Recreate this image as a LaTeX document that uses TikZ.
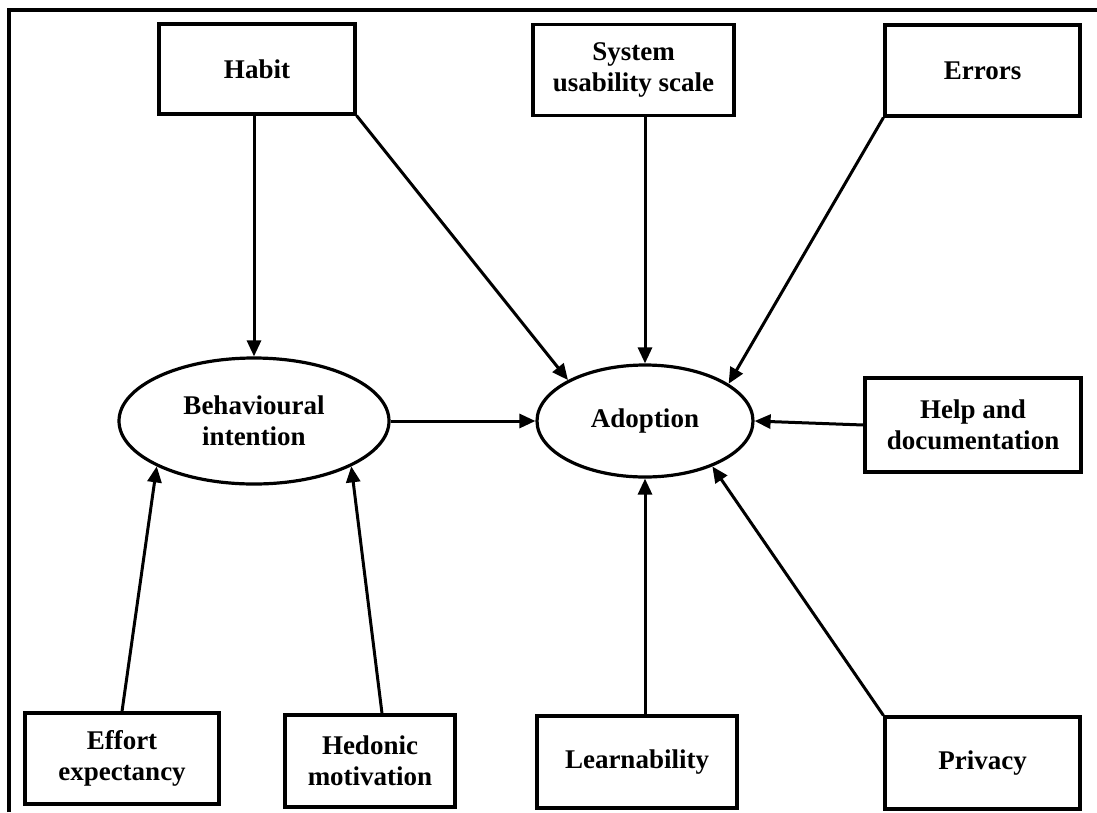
\documentclass[tikz,border=0pt]{standalone}
\usepackage{fontspec}
\setmainfont{Liberation Serif}
\usetikzlibrary{arrows.meta,shapes.geometric}
\begin{document}
\begin{tikzpicture}[x=1pt,y=-1pt,
  every node/.style={font=\fontsize{27}{31}\selectfont\bfseries, align=center, inner sep=0pt},
  factor/.style={draw, line width=3.2pt, rectangle},
  construct/.style={draw, line width=3.2pt, ellipse},
  link/.style={line width=3pt, -{Triangle[length=16pt,width=14pt]}},
  frameline/.style={line width=3.2pt}]
\useasboundingbox (0,0) rectangle (1097,812);

% outer frame (top and left edges)
\draw[frameline] (9,812) -- (9,10) -- (1097,10);

% top row
\node[factor, minimum width=196pt, minimum height=90pt] (hab) at (257,69) {Habit};
\node[factor, minimum width=201pt, minimum height=91pt] (sus) at (633.5,70) {System\\usability scale};
\node[factor, minimum width=195pt, minimum height=91pt] (err) at (982.5,70.5) {Errors};

% middle row
\node[construct, minimum width=270pt, minimum height=126pt] (bi) at (254,421) {Behavioural\\intention};
\node[construct, minimum width=216pt, minimum height=112pt] (ado) at (645,421) {Adoption};
\node[factor, minimum width=216pt, minimum height=94pt] (help) at (973,425) {Help and\\documentation};

% bottom row
\node[factor, minimum width=194pt, minimum height=91pt] (eff) at (122,758.5) {Effort\\expectancy};
\node[factor, minimum width=170pt, minimum height=92pt] (hed) at (370,761) {Hedonic\\motivation};
\node[factor, minimum width=200pt, minimum height=92pt] (lrn) at (637,762) {Learnability};
\node[factor, minimum width=195pt, minimum height=92pt] (prv) at (982.5,763) {Privacy};

% influences
\draw[link] (hab.south -| bi.north) -- (bi.north);
\draw[link] (hab.south east) -- (ado.152.5);
\draw[link] (sus.south -| ado.north) -- (ado.north);
\draw[link] (err.south west) -- (ado.24.4);
\draw[link] (help.west) -- (ado.east);
\draw[link] (bi.east) -- (ado.west);
\draw[link] (lrn.north -| ado.south) -- (ado.south);
\draw[link] (prv.north west) -- (ado.-34.4);
\draw[link] (eff.north) -- (bi.205);
\draw[link] ([xshift=12pt]hed.north) -- (bi.-25.6);
\end{tikzpicture}
\end{document}
